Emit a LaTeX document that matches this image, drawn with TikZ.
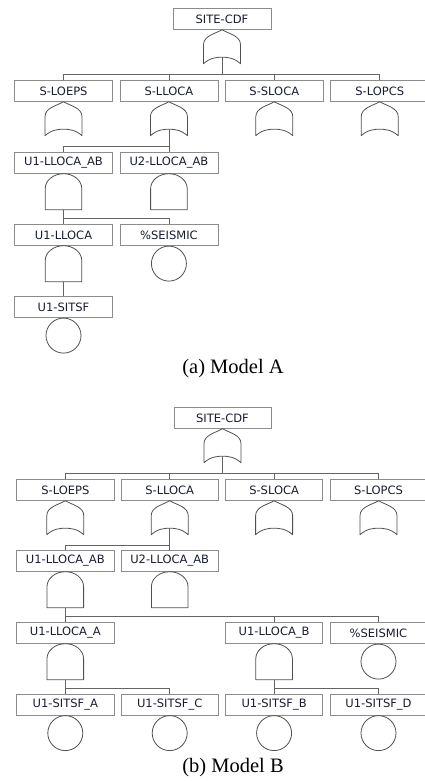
\documentclass[tikz,border=0pt]{standalone}
\usepackage{fontspec}
\setmainfont{DejaVu Sans}
\newfontfamily\capfont{Liberation Serif}
\definecolor{boxgray}{RGB}{140,140,140}
\definecolor{gatecol}{RGB}{80,80,80}
\definecolor{linecol}{RGB}{100,100,100}
\definecolor{txtcol}{RGB}{25,30,45}
\tikzset{
  box/.style={draw=boxgray, line width=0.7pt, minimum width=98pt, minimum height=21pt,
    inner sep=0pt, anchor=north, font=\fontsize{11.5}{12}\selectfont, text=txtcol},
  gateline/.style={draw=gatecol, line width=0.8pt, line join=round},
  conn/.style={draw=linecol, line width=0.8pt},
  evt/.style={circle, draw=gatecol, line width=0.8pt, minimum size=35pt, inner sep=0pt, anchor=north},
  captext/.style={font=\capfont\fontsize{20.5}{22}\selectfont},
  orgate/.pic={
    \draw[gateline] (0,0) .. controls (-6.5,4) and (-18.5,6) .. (-18.5,15) -- (-18.5,34)
      .. controls (-12,28) and (-5,27.5) .. (0,27.5) .. controls (5,27.5) and (12,28) .. (18.5,34)
      -- (18.5,15) .. controls (18.5,6) and (6.5,4) .. (0,0) -- cycle;
    \coordinate (-stem) at (0,27.5);
    \coordinate (-hl) at (0,44.5);
  },
  andgate/.pic={
    \draw[gateline] (-18.3,36) -- (-18.3,15) .. controls (-18.3,6.7) and (-10.1,0) .. (0,0)
      .. controls (10.1,0) and (18.3,6.7) .. (18.3,15) -- (18.3,36) -- cycle;
    \coordinate (-stem) at (0,36);
    \coordinate (-hl) at (0,44.5);
  }
}
\begin{document}
\begin{tikzpicture}[x=1pt, y=-1pt]
\useasboundingbox (0,0) rectangle (425,781);
\clip (0,0) rectangle (425,781);
\fill[white] (0,0) rectangle (425,781);

% ---------------- Model A ----------------
\node[box] (aTop) at (222,8) {SITE-CDF};
\pic (gaTop) at (aTop.south) {orgate};

\node[box] (aLOEPS) at (63.5,80) {S-LOEPS};
\node[box] (aLLOCA) at (168.9,80) {S-LLOCA};
\node[box] (aSLOCA) at (274.3,80) {S-SLOCA};
\node[box] (aLOPCS) at (379.7,80) {S-LOPCS};
\foreach \n in {aLOEPS,aLLOCA,aSLOCA,aLOPCS}
  \draw[conn] (gaTop-stem) -- (gaTop-hl) -| (\n.north);
\pic (gaLOEPS) at (aLOEPS.south) {orgate};
\pic (gaLLOCA) at (aLLOCA.south) {orgate};
\pic (gaSLOCA) at (aSLOCA.south) {orgate};
\pic (gaLOPCS) at (aLOPCS.south) {orgate};

\node[box] (aU1AB) at (63.5,152) {U1-LLOCA\_AB};
\node[box] (aU2AB) at (168.9,152) {U2-LLOCA\_AB};
\foreach \n in {aU1AB,aU2AB}
  \draw[conn] (gaLLOCA-stem) -- (gaLLOCA-hl) -| (\n.north);
\pic (gaU1AB) at (aU1AB.south) {andgate};
\pic (gaU2AB) at (aU2AB.south) {andgate};

\node[box] (aU1L) at (63.5,224) {U1-LLOCA};
\node[box] (aSEIS) at (168.9,224) {\%SEISMIC};
\foreach \n in {aU1L,aSEIS}
  \draw[conn] (gaU1AB-stem) -- (gaU1AB-hl) -| (\n.north);
\pic (gaU1L) at (aU1L.south) {andgate};
\node[evt] (aSEISc) at (aSEIS.south) {};

\node[box] (aSITSF) at (63.5,296) {U1-SITSF};
\draw[conn] (gaU1L-stem) -- (aSITSF.north);
\node[evt] (aSITSFc) at (aSITSF.south) {};

\node[captext] (capA) at (233,369) {(a) Model A};

% ---------------- Model B ----------------
\begin{scope}[box/.append style={minimum width=97.3pt}]
\node[box] (bTop) at (222.5,407) {SITE-CDF};
\pic (gbTop) at (bTop.south) {orgate};

\node[box] (bLOEPS) at (65.3,479) {S-LOEPS};
\node[box] (bLLOCA) at (169.7,479) {S-LLOCA};
\node[box] (bSLOCA) at (274.1,479) {S-SLOCA};
\node[box] (bLOPCS) at (378.5,479) {S-LOPCS};
\foreach \n in {bLOEPS,bLLOCA,bSLOCA,bLOPCS}
  \draw[conn] (gbTop-stem) -- (gbTop-hl) -| (\n.north);
\pic (gbLOEPS) at (bLOEPS.south) {orgate};
\pic (gbLLOCA) at (bLLOCA.south) {orgate};
\pic (gbSLOCA) at (bSLOCA.south) {orgate};
\pic (gbLOPCS) at (bLOPCS.south) {orgate};

\node[box] (bU1AB) at (65.3,550) {U1-LLOCA\_AB};
\node[box] (bU2AB) at (169.7,550) {U2-LLOCA\_AB};
\foreach \n in {bU1AB,bU2AB}
  \draw[conn] (gbLLOCA-stem) -- (gbLLOCA-hl) -| (\n.north);
\pic (gbU1AB) at (bU1AB.south) {andgate};
\pic (gbU2AB) at (bU2AB.south) {andgate};

\node[box] (bU1LA) at (65.3,622) {U1-LLOCA\_A};
\node[box] (bU1LB) at (274.1,622) {U1-LLOCA\_B};
\node[box] (bSEIS) at (378.5,622) {\%SEISMIC};
\foreach \n in {bU1LA,bU1LB,bSEIS}
  \draw[conn] (gbU1AB-stem) -- (gbU1AB-hl) -| (\n.north);
\pic (gbU1LA) at (bU1LA.south) {andgate};
\pic (gbU1LB) at (bU1LB.south) {andgate};
\node[evt] (bSEISc) at (bSEIS.south) {};

\node[box] (bSA) at (65.3,693.5) {U1-SITSF\_A};
\node[box] (bSC) at (169.7,693.5) {U1-SITSF\_C};
\node[box] (bSB) at (274.1,693.5) {U1-SITSF\_B};
\node[box] (bSD) at (378.5,693.5) {U1-SITSF\_D};
\foreach \n in {bSA,bSC}
  \draw[conn] (gbU1LA-stem) -- (gbU1LA-hl) -| (\n.north);
\foreach \n in {bSB,bSD}
  \draw[conn] (gbU1LB-stem) -- (gbU1LB-hl) -| (\n.north);
\foreach \n in {bSA,bSC,bSB,bSD}
  \node[evt] (\n c) at (\n.south) {};
\end{scope}

\node[captext] (capB) at (233,768) {(b) Model B};
\end{tikzpicture}
\end{document}
